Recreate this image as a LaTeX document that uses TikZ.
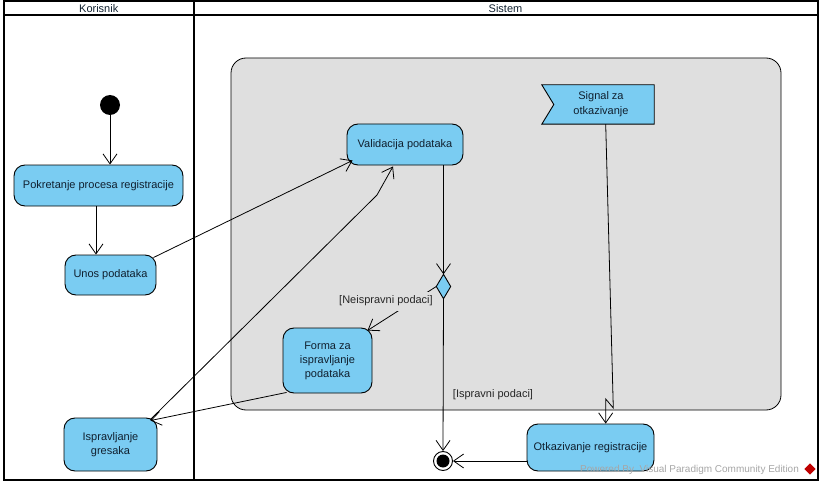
\documentclass[tikz,border=0pt]{standalone}
\usepackage{fontspec}
\setmainfont{Liberation Sans}
\usetikzlibrary{arrows.meta,calc}
\definecolor{actfill}{HTML}{7ACCF2}
\definecolor{regfill}{HTML}{DFDFDF}
\definecolor{txt}{HTML}{10202F}
\begin{document}
\begin{tikzpicture}[x=1pt,y=-1pt,
  font=\fontsize{11}{14}\selectfont, text=txt,
  act/.style={draw=black, line width=0.9pt, fill=actfill, rounded corners=11pt, align=center, inner sep=2pt},
  flow/.style={draw=black, line width=0.8pt, -{Straight Barb[length=10pt,width=14pt,line width=0.8pt]}},
  lane/.style={draw=black, line width=2pt},
  guard/.style={inner sep=1pt, text=black!85}]
\useasboundingbox (0,0) rectangle (823,487);
% swimlanes
\draw[lane] (4,1.5) rectangle (817.5,480);
\draw[lane] (4,15) -- (817.5,15);
\draw[lane] (193.5,1.5) -- (193.5,480);
\node (hk) at (98.75,8.5) {Korisnik};
\node (hs) at (505.5,8.5) {Sistem};
% region
\node[draw=black, line width=0.8pt, fill=regfill, rounded corners=15pt, minimum width=550pt, minimum height=352pt, inner sep=0] (region) at (506,234) {};
% nodes
\node[circle, fill=black, minimum size=20pt, inner sep=0] (init) at (110,105) {};
\node[act, minimum width=169pt, minimum height=41pt] (pok) at (98.5,185.5) {Pokretanje procesa registracije};
\node[act, minimum width=91pt, minimum height=40pt] (unos) at (110.5,275) {Unos podataka};
\node[act, minimum width=93pt, minimum height=53pt] (ispr) at (110.5,444.5) {Ispravljanje\\gresaka};
\node[act, minimum width=116pt, minimum height=41pt] (valid) at (405,144.5) {Validacija podataka};
\node[act, minimum width=89pt, minimum height=65pt] (forma) at (327.5,360.5) {Forma za\\ispravljanje\\podataka};
\node[act, minimum width=127pt, minimum height=47pt] (otk) at (590.5,447.5) {Otkazivanje registracije};
% signal
\node[minimum width=106pt, minimum height=39pt, inner sep=0, align=center] (sig) at (601,104.5) {};
\draw[line width=0.9pt, fill=actfill] ($(sig.north west)+(-6,0)$) -- (sig.north east) -- (sig.south east) -- ($(sig.south west)+(-6,0)$) -- ($(sig.west)+(6,0)$) -- cycle;
\node[align=center, font=\fontsize{11}{15}\selectfont] (sigtext) at (sig.center) {Signal za\\otkazivanje};
% decision
\node[minimum width=14pt, minimum height=24pt, inner sep=0] (dec) at (443.5,286.5) {};
\draw[line width=0.9pt, fill=actfill] (dec.north) -- (dec.east) -- (dec.south) -- (dec.west) -- cycle;
% final
\node[circle, draw=black, line width=0.9pt, fill=white, minimum size=19pt, inner sep=0] (fin) at (443,461) {};
\fill[black] (fin.center) circle (6.5pt);
% flows
\coordinate (b1) at (377,195);
\coordinate (z1) at (613.3,408);
\coordinate (z2) at (605.7,399);
\draw[flow] (init) -- (init |- pok.north);
\draw[flow] ([xshift=-2.5pt]pok.south) -- ([xshift=-2.5pt]pok.south |- unos.north);
\draw[flow] ($(unos.north east)+(-3,3)$) -- ($(valid.south west)+(6,-5)$);
\draw[flow] ($(ispr.north east)+(-7,2)$) -- (b1) -- ($(valid.south)+(-12,1)$);
\draw[flow] ($(forma.south west)+(4,-1)$) -- ($(ispr.north east)+(-7,3)$);
\draw[flow] (dec |- valid.south) -- (dec.north);
\draw[flow] (dec.west) -- ($(forma.north east)+(-5,3)$);
\draw[flow] (dec.south) -- (fin.north);
\draw[flow] (otk.west |- fin) -- (fin.east);
\draw[flow] ($(sig.south)+(4.7,0)$) -- (z1) -- (z2) -- (z2 |- otk.north);
% guards
\node[guard, fill=regfill, minimum width=98pt, minimum height=19pt, inner sep=0] (gneis) at (386,301) {[Neispravni podaci]};
\node[guard] (gisp) at (493,395) {[Ispravni podaci]};
% watermark
\node[text=black!35, font=\fontsize{10}{12}\selectfont, inner sep=0] (wm) at (689.5,470) {Powered By\ \ Visual Paradigm Community Edition};
\node[fill=red!75!black, rotate=45, minimum size=8pt, inner sep=0] (wmicon) at (810,469) {};
\end{tikzpicture}
\end{document}
